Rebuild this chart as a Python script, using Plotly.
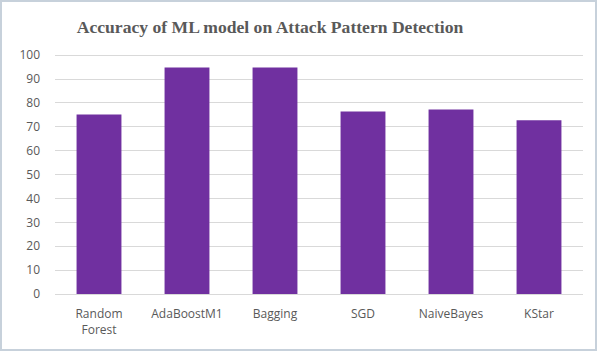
import plotly.graph_objects as go

models = ['Random<br>Forest', 'AdaBoostM1', 'Bagging', 'SGD', 'NaiveBayes', 'KStar']
accuracy = [75.2, 94.8, 94.8, 76.4, 77.2, 72.8]
y_ticks = [0, 10, 20, 30, 40, 50, 60, 70, 80, 90, 100]

W, H = 597, 351
L, R, T, B = 55, 14, 48, 57
pw, ph = W - L - R, H - T - B

fig = go.Figure()
fig.add_trace(go.Bar(
    x=models,
    y=accuracy,
    width=0.51,
    marker=dict(color='#7030A0', line=dict(width=0)),
))

# outer frame like the office chart border
fig.add_shape(
    type='rect', xref='paper', yref='paper', layer='below',
    x0=(2 - L) / pw, x1=(595 - L) / pw,
    y0=-(349 - T - ph) / ph, y1=(T + ph - 2) / ph,
    fillcolor='white', line=dict(width=0),
)

fig.update_layout(
    width=W, height=H,
    margin=dict(l=L, r=R, t=T, b=B, autoexpand=False),
    paper_bgcolor='#c7d1db',
    plot_bgcolor='rgba(0,0,0,0)',
    showlegend=False,
    title=dict(
        text='<b>Accuracy of ML model on Attack Pattern Detection</b>',
        x=270 / W, xanchor='center', xref='container',
        y=1 - 27 / H, yanchor='middle',
        font=dict(family='Liberation Serif', size=17.6, color='#595959'),
    ),
    xaxis=dict(
        showgrid=False, automargin=False,
        showline=True, linecolor='#d9d9d9', linewidth=1,
        ticks='', ticklabelstandoff=9,
        tickfont=dict(family='Open Sans', size=12, color='#595959'),
    ),
    yaxis=dict(
        range=[0, 103], automargin=False,
        tickvals=y_ticks,
        showgrid=True, gridcolor='#d9d9d9', gridwidth=1,
        zeroline=False, showline=False, ticks='',
        tickfont=dict(family='Open Sans', size=12, color='#595959'),
        ticklabelstandoff=14,
    ),
)

fig.write_html('out.html', config={'displayModeBar': False},
               post_script="document.body.style.margin='0';")
